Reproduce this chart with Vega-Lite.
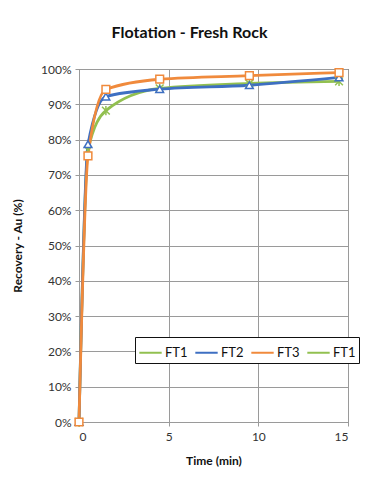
{
  "$schema": "https://vega.github.io/schema/vega-lite/v6.json",
  "autosize": {"type": "none"},
  "width": 269,
  "height": 353,
  "padding": {"left": 79, "top": 69, "right": 25, "bottom": 62},
  "background": "white",
  "config": {
    "font": "Lato",
    "view": {"stroke": "#333", "strokeWidth": 1},
    "axis": {"gridColor": "#9a9a9a", "gridWidth": 1, "domainColor": "#9a9a9a", "tickColor": "#9a9a9a", "tickSize": 4, "labelColor": "#333", "labelFontSize": 12, "titleFontSize": 12, "titleColor": "#111", "titleFontWeight": "bold", "labelFont": "Lato", "titleFont": "Lato"},
    "legend": {"labelFont": "Lato"}
  },
  "title": {"text": "Flotation - Fresh Rock", "fontSize": 16, "fontWeight": "bold", "font": "Lato", "color": "#111", "offset": 22, "dx": -24},
  "data": {"values": [
    {"series": "FT1", "time": 0, "recovery": 0},
    {"series": "FT1", "time": 0.5, "recovery": 77},
    {"series": "FT1", "time": 1.5, "recovery": 88.2},
    {"series": "FT1", "time": 4.5, "recovery": 94.5},
    {"series": "FT1", "time": 9.5, "recovery": 95.9},
    {"series": "FT1", "time": 14.5, "recovery": 96.5},
    {"series": "FT2", "time": 0, "recovery": 0},
    {"series": "FT2", "time": 0.5, "recovery": 78.7},
    {"series": "FT2", "time": 1.5, "recovery": 92.2},
    {"series": "FT2", "time": 4.5, "recovery": 94.3},
    {"series": "FT2", "time": 9.5, "recovery": 95.4},
    {"series": "FT2", "time": 14.5, "recovery": 97.6},
    {"series": "FT3", "time": 0, "recovery": 0},
    {"series": "FT3", "time": 0.5, "recovery": 75.4},
    {"series": "FT3", "time": 1.5, "recovery": 94.2},
    {"series": "FT3", "time": 4.5, "recovery": 97.1},
    {"series": "FT3", "time": 9.5, "recovery": 98.1},
    {"series": "FT3", "time": 14.5, "recovery": 99.0}
  ]},
  "encoding": {
    "x": {"field": "time", "type": "quantitative", "scale": {"domain": [0, 15], "nice": false},
      "axis": {"title": "Time (min)", "values": [0, 5, 10, 15], "labelPadding": 5, "titlePadding": 13}},
    "y": {"field": "recovery", "type": "quantitative", "scale": {"domain": [0, 100], "nice": false},
      "axis": {"title": "Recovery - Au (%)", "values": [0,10,20,30,40,50,60,70,80,90,100], "labelExpr": "datum.value + '%'", "labelPadding": 4, "titlePadding": 16}},
    "color": {"field": "series", "type": "nominal",
      "scale": {"domain": ["FT1", "FT2", "FT3", "FT1 "], "range": ["#92C050", "#3E6FC2", "#F08A3C", "#92C050"]},
      "legend": {"title": null, "orient": "none", "legendX": 56, "legendY": 268, "direction": "horizontal",
        "symbolType": "stroke", "symbolStrokeWidth": 2, "symbolSize": 500, "labelFontSize": 13, "labelColor": "#111",
        "strokeColor": "#111", "padding": 3, "columnPadding": 3, "labelOffset": 2, "fillColor": "white"}}
  },
  "layer": [
    {"mark": {"type": "line", "interpolate": "monotone", "strokeWidth": 2.8}},
    {"mark": {"type": "point", "filled": false, "fill": "white", "fillOpacity": 1, "strokeWidth": 1.5, "size": 60, "opacity": 1},
      "encoding": {"shape": {"field": "series", "type": "nominal",
        "scale": {"domain": ["FT1", "FT2", "FT3"], "range": ["M-1,-1L1,1M-1,1L1,-1M0,-1.2L0,1.2", "triangle-up", "square"]},
        "legend": null}}}
  ]
}
